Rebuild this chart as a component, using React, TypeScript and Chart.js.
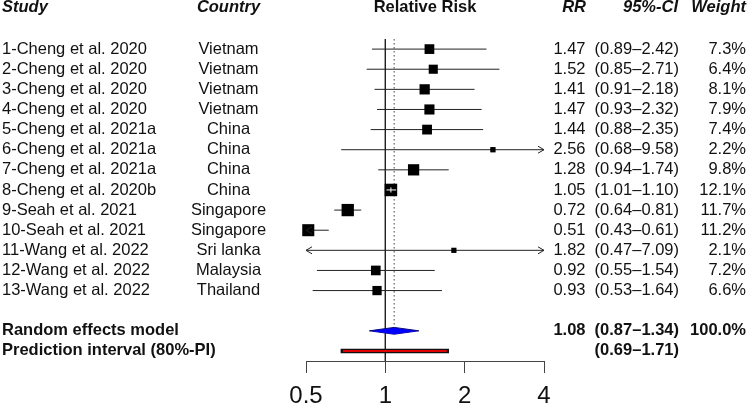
import React, { useEffect, useRef } from "react";
import { Chart, registerables } from "chart.js";

Chart.register(...registerables);

// ---------------- data ----------------
const studies = [
  "1-Cheng et al. 2020",
  "2-Cheng et al. 2020",
  "3-Cheng et al. 2020",
  "4-Cheng et al. 2020",
  "5-Cheng et al. 2021a",
  "6-Cheng et al. 2021a",
  "7-Cheng et al. 2021a",
  "8-Cheng et al. 2020b",
  "9-Seah et al. 2021",
  "10-Seah et al. 2021",
  "11-Wang et al. 2022",
  "12-Wang et al. 2022",
  "13-Wang et al. 2022",
];
const countries = [
  "Vietnam",
  "Vietnam",
  "Vietnam",
  "Vietnam",
  "China",
  "China",
  "China",
  "China",
  "Singapore",
  "Singapore",
  "Sri lanka",
  "Malaysia",
  "Thailand",
];
const rrValues = [1.47, 1.52, 1.41, 1.47, 1.44, 2.56, 1.28, 1.05, 0.72, 0.51, 1.82, 0.92, 0.93];
const ciLower = [0.89, 0.85, 0.91, 0.93, 0.88, 0.68, 0.94, 1.01, 0.64, 0.43, 0.47, 0.55, 0.53];
const ciUpper = [2.42, 2.71, 2.18, 2.32, 2.35, 9.58, 1.74, 1.1, 0.81, 0.61, 7.09, 1.54, 1.64];
const weights = [7.3, 6.4, 8.1, 7.9, 7.4, 2.2, 9.8, 12.1, 11.7, 11.2, 2.1, 7.2, 6.6];

const pooledLabel = "Random effects model";
const pooledRR = 1.08;
const pooledLower = 0.87;
const pooledUpper = 1.34;
const pooledWeight = 100.0;

const predictionLabel = "Prediction interval (80%-PI)";
const predictionLower = 0.69;
const predictionUpper = 1.71;

const headers = ["Study", "Country", "Relative Risk", "RR", "95%-CI", "Weight"];
const xTickValues = [0.5, 1, 2, 4];
const xTickLabels = ["0.5", "1", "2", "4"];

// ---------------- layout / style ----------------
const FONT = '"Liberation Sans", Arial, Helvetica, sans-serif';
const TEXT_SIZE = 16.5;
const HEADER_ROW = -1.05;
const POOLED_ROW = studies.length + 2;
const PRED_ROW = studies.length + 3;
const Y_MIN = -1;
const Y_MAX = PRED_ROW + 0.5;
const SQUARE_SCALE = 3.6;
const DIAMOND_HALF = 0.17;
const LINE_COLOR = "#222";
const TEXT_COLOR = "#111";

const fmt2 = (v: number) => v.toFixed(2);
const ciText = (lo: number, hi: number) => `(${fmt2(lo)}\u2013${fmt2(hi)})`;
const wText = (w: number) => `${w.toFixed(1)}%`;
const squareSide = (w: number) => SQUARE_SCALE * Math.sqrt(w);

const forestPlugin = {
  id: "forestDecor",
  afterDatasetsDraw(chart: any) {
    const { ctx } = chart;
    const x = chart.scales.x;
    const y = chart.scales.y;
    const xMin = x.min;
    const xMax = x.max;
    ctx.save();

    // white CI inside boxes when the CI is narrower than the box
    rrValues.forEach((rr, i) => {
      const cx = x.getPixelForValue(rr);
      const cy = y.getPixelForValue(i + 1);
      const half = squareSide(weights[i]) / 2;
      const lo = x.getPixelForValue(ciLower[i]);
      const hi = x.getPixelForValue(ciUpper[i]);
      if (lo >= cx - half && hi <= cx + half) {
        ctx.strokeStyle = "#fff";
        ctx.lineWidth = 1;
        ctx.beginPath();
        ctx.moveTo(lo, cy);
        ctx.lineTo(hi, cy);
        ctx.moveTo(cx, cy - 2.5);
        ctx.lineTo(cx, cy + 2.5);
        ctx.stroke();
      }
    });

    // arrows for CIs beyond the axis range
    ctx.strokeStyle = LINE_COLOR;
    ctx.lineWidth = 1;
    rrValues.forEach((rr, i) => {
      const cy = y.getPixelForValue(i + 1);
      if (ciUpper[i] > xMax) {
        const px = x.getPixelForValue(xMax);
        ctx.beginPath();
        ctx.moveTo(px - 6, cy - 3.5);
        ctx.lineTo(px, cy);
        ctx.lineTo(px - 6, cy + 3.5);
        ctx.stroke();
      }
      if (ciLower[i] < xMin) {
        const px = x.getPixelForValue(xMin);
        ctx.beginPath();
        ctx.moveTo(px + 6, cy - 3.5);
        ctx.lineTo(px, cy);
        ctx.lineTo(px + 6, cy + 3.5);
        ctx.stroke();
      }
    });

    // text
    const reg = `${TEXT_SIZE}px ${FONT}`;
    const bold = `bold ${TEXT_SIZE}px ${FONT}`;
    const bi = `italic bold ${TEXT_SIZE}px ${FONT}`;
    const colStudy = 2;
    const colCountry = 228.5;
    const colRR = 585.5;
    const colCI = 679;
    const colW = 746;
    const colPlot = (x.left + x.right) / 2;

    ctx.fillStyle = TEXT_COLOR;
    ctx.textBaseline = "middle";

    const hy = y.getPixelForValue(HEADER_ROW);
    ctx.font = bi;
    ctx.textAlign = "left";
    ctx.fillText(headers[0], colStudy, hy);
    ctx.textAlign = "center";
    ctx.fillText(headers[1], colCountry, hy);
    ctx.font = bold;
    ctx.fillText(headers[2], colPlot, hy);
    ctx.font = bi;
    ctx.textAlign = "right";
    ctx.fillText(headers[3], colRR + 0.5, hy);
    ctx.fillText(headers[4], colCI - 1, hy);
    ctx.fillText(headers[5], colW, hy);

    ctx.font = reg;
    studies.forEach((s, i) => {
      const ry = y.getPixelForValue(i + 1);
      ctx.textAlign = "left";
      ctx.fillText(s, colStudy, ry);
      ctx.textAlign = "center";
      ctx.fillText(countries[i], colCountry, ry);
      ctx.textAlign = "right";
      ctx.fillText(fmt2(rrValues[i]), colRR, ry);
      ctx.fillText(ciText(ciLower[i], ciUpper[i]), colCI, ry);
      ctx.fillText(wText(weights[i]), colW, ry);
    });

    ctx.font = bold;
    const py = y.getPixelForValue(POOLED_ROW);
    ctx.textAlign = "left";
    ctx.fillText(pooledLabel, colStudy, py);
    ctx.textAlign = "right";
    ctx.fillText(fmt2(pooledRR), colRR, py);
    ctx.fillText(ciText(pooledLower, pooledUpper), colCI, py);
    ctx.fillText(wText(pooledWeight), colW, py);

    const pry = y.getPixelForValue(PRED_ROW);
    ctx.textAlign = "left";
    ctx.fillText(predictionLabel, colStudy, pry);
    ctx.textAlign = "right";
    ctx.fillText(ciText(predictionLower, predictionUpper), colCI, pry);

    ctx.restore();
  },
};

export default function App() {
  const canvasRef = useRef<HTMLCanvasElement | null>(null);

  useEffect(() => {
    if (!canvasRef.current) return;
    Chart.defaults.font.family = FONT;

    const whiskerData: any[] = [];
    rrValues.forEach((_, i) => {
      whiskerData.push({ x: ciLower[i], y: i + 1 });
      whiskerData.push({ x: ciUpper[i], y: i + 1 });
      whiskerData.push({ x: null, y: null });
    });
    const squareData = rrValues.map((rr, i) => ({ x: rr, y: i + 1 }));
    const squareRadii = weights.map((w) => squareSide(w) / Math.SQRT2);

    const chart = new Chart(canvasRef.current, {
      type: "scatter",
      data: {
        datasets: [
          {
            label: "diamondTop",
            data: [
              { x: pooledLower, y: POOLED_ROW },
              { x: pooledRR, y: POOLED_ROW - DIAMOND_HALF },
              { x: pooledUpper, y: POOLED_ROW },
            ],
            showLine: true,
            borderColor: "#0a0a80",
            borderWidth: 1,
            backgroundColor: "#0000ff",
            fill: "+1",
            pointRadius: 0,
            order: 1,
          },
          {
            label: "diamondBottom",
            data: [
              { x: pooledLower, y: POOLED_ROW },
              { x: pooledRR, y: POOLED_ROW + DIAMOND_HALF },
              { x: pooledUpper, y: POOLED_ROW },
            ],
            showLine: true,
            borderColor: "#0a0a80",
            borderWidth: 1,
            backgroundColor: "#0000ff",
            fill: false,
            pointRadius: 0,
            order: 2,
          },
          {
            label: "predRed",
            data: [
              { x: predictionLower, y: PRED_ROW },
              { x: predictionUpper, y: PRED_ROW },
            ],
            showLine: true,
            borderColor: "#e00000",
            borderWidth: 2,
            borderCapStyle: "butt",
            pointRadius: 0,
            order: 3,
          },
          {
            label: "predBlack",
            data: [
              { x: predictionLower, y: PRED_ROW },
              { x: predictionUpper, y: PRED_ROW },
            ],
            showLine: true,
            borderColor: "#111",
            borderWidth: 4.5,
            borderCapStyle: "square",
            pointRadius: 0,
            order: 4,
          },
          {
            label: "squares",
            data: squareData,
            showLine: false,
            pointStyle: "rect",
            pointRadius: squareRadii,
            pointHoverRadius: squareRadii,
            pointBackgroundColor: "#000",
            pointBorderWidth: 0,
            clip: false,
            order: 5,
          },
          {
            label: "whiskers",
            data: whiskerData,
            showLine: true,
            spanGaps: false,
            borderColor: LINE_COLOR,
            borderWidth: 1,
            pointRadius: 0,
            order: 6,
          },
          {
            label: "pooledLine",
            data: [
              { x: pooledRR, y: 0.5 },
              { x: pooledRR, y: POOLED_ROW - DIAMOND_HALF },
            ],
            showLine: true,
            borderColor: "#444",
            borderWidth: 1,
            borderDash: [1.5, 2.5],
            pointRadius: 0,
            order: 7,
          },
          {
            label: "nullLine",
            data: [
              { x: 1, y: 0.5 },
              { x: 1, y: Y_MAX },
            ],
            showLine: true,
            borderColor: "#222",
            borderWidth: 1,
            pointRadius: 0,
            order: 8,
          },
        ],
      },
      options: {
        animation: false,
        responsive: false,
        devicePixelRatio: 1,
        events: [],
        layout: { padding: { left: 306, right: 203, top: 8, bottom: 1 } },
        plugins: {
          legend: { display: false },
          tooltip: { enabled: false },
          title: { display: false },
        },
        scales: {
          x: {
            type: "logarithmic",
            position: "bottom",
            min: xTickValues[0],
            max: xTickValues[xTickValues.length - 1],
            afterBuildTicks: (scale: any) => {
              scale.ticks = xTickValues.map((v) => ({ value: v }));
            },
            grid: {
              display: true,
              drawOnChartArea: false,
              drawTicks: true,
              tickLength: 12,
              color: "#444",
              lineWidth: 1,
            },
            border: { display: true, color: "#444", width: 1 },
            ticks: {
              autoSkip: false,
              maxRotation: 0,
              padding: 11,
              color: TEXT_COLOR,
              font: { size: 24, family: FONT, lineHeight: 1 },
              callback: (value: any) => {
                const idx = xTickValues.indexOf(Number(value));
                return idx >= 0 ? xTickLabels[idx] : "";
              },
            },
          },
          y: {
            type: "linear",
            display: false,
            reverse: true,
            min: Y_MIN,
            max: Y_MAX,
          },
        },
      } as any,
      plugins: [forestPlugin],
    });

    return () => chart.destroy();
  }, []);

  return (
    <div
      style={{
        position: "absolute",
        left: 0,
        top: 0,
        width: 747,
        height: 406,
        overflow: "hidden",
        background: "#fff",
      }}
    >
      <canvas
        ref={canvasRef}
        width={747}
        height={420}
        style={{ display: "block", width: 747, height: 420 }}
      />
    </div>
  );
}
